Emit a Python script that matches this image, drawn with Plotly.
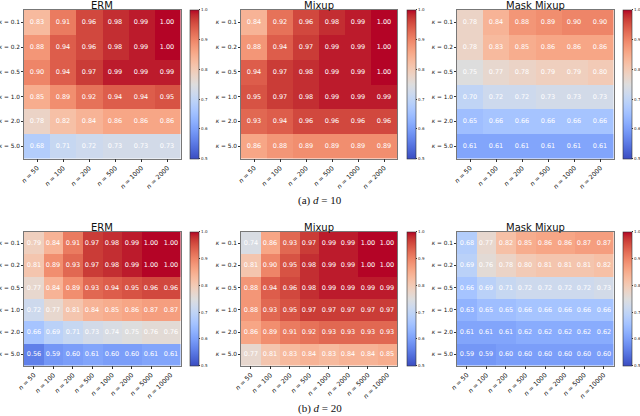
import plotly.graph_objects as go

# ---------------- data ----------------
kappas = ["0.1", "0.2", "0.5", "1.0", "2.0", "5.0"]
n_top = ["50", "100", "200", "500", "1000", "2000"]
n_bot = ["50", "100", "200", "500", "1000", "2000", "5000", "10000"]
methods = ["ERM", "Mixup", "Mask Mixup"]

erm_d10 = [
    [0.83, 0.91, 0.96, 0.98, 0.99, 1.00],
    [0.88, 0.94, 0.96, 0.98, 0.99, 1.00],
    [0.90, 0.94, 0.97, 0.99, 0.99, 0.99],
    [0.85, 0.89, 0.92, 0.94, 0.94, 0.95],
    [0.78, 0.82, 0.84, 0.86, 0.86, 0.86],
    [0.68, 0.71, 0.72, 0.73, 0.73, 0.73],
]
mixup_d10 = [
    [0.84, 0.92, 0.96, 0.98, 0.99, 1.00],
    [0.88, 0.94, 0.97, 0.99, 0.99, 1.00],
    [0.94, 0.97, 0.98, 0.99, 0.99, 1.00],
    [0.95, 0.97, 0.98, 0.99, 0.99, 0.99],
    [0.93, 0.94, 0.96, 0.96, 0.96, 0.96],
    [0.86, 0.88, 0.89, 0.89, 0.89, 0.89],
]
mask_d10 = [
    [0.78, 0.84, 0.88, 0.89, 0.90, 0.90],
    [0.78, 0.83, 0.85, 0.86, 0.86, 0.86],
    [0.75, 0.77, 0.78, 0.79, 0.79, 0.80],
    [0.70, 0.72, 0.72, 0.73, 0.73, 0.73],
    [0.65, 0.66, 0.66, 0.66, 0.66, 0.66],
    [0.61, 0.61, 0.61, 0.61, 0.61, 0.61],
]
erm_d20 = [
    [0.79, 0.84, 0.91, 0.97, 0.98, 0.99, 1.00, 1.00],
    [0.81, 0.89, 0.93, 0.97, 0.98, 0.99, 1.00, 1.00],
    [0.77, 0.84, 0.89, 0.93, 0.94, 0.95, 0.96, 0.96],
    [0.72, 0.77, 0.81, 0.84, 0.85, 0.86, 0.87, 0.87],
    [0.66, 0.69, 0.71, 0.73, 0.74, 0.75, 0.76, 0.76],
    [0.56, 0.59, 0.60, 0.61, 0.60, 0.60, 0.61, 0.61],
]
mixup_d20 = [
    [0.74, 0.86, 0.93, 0.97, 0.99, 0.99, 1.00, 1.00],
    [0.81, 0.90, 0.95, 0.98, 0.99, 0.99, 1.00, 1.00],
    [0.88, 0.94, 0.96, 0.98, 0.99, 0.99, 0.99, 0.99],
    [0.88, 0.93, 0.95, 0.97, 0.97, 0.97, 0.97, 0.97],
    [0.86, 0.89, 0.91, 0.92, 0.93, 0.93, 0.93, 0.93],
    [0.77, 0.81, 0.83, 0.84, 0.83, 0.84, 0.84, 0.85],
]
mask_d20 = [
    [0.68, 0.77, 0.82, 0.85, 0.86, 0.86, 0.87, 0.87],
    [0.69, 0.76, 0.78, 0.80, 0.81, 0.81, 0.81, 0.82],
    [0.66, 0.69, 0.71, 0.72, 0.72, 0.72, 0.72, 0.73],
    [0.63, 0.65, 0.65, 0.66, 0.66, 0.66, 0.66, 0.66],
    [0.61, 0.61, 0.61, 0.62, 0.62, 0.62, 0.62, 0.62],
    [0.59, 0.59, 0.60, 0.60, 0.60, 0.60, 0.60, 0.60],
]
captions = ["(a) <i>d</i> = 10", "(b) <i>d</i> = 20"]
cbar_ticks = [0.5, 0.6, 0.7, 0.8, 0.9, 1.0]

# matplotlib "coolwarm"
cw = [
    (59, 76, 192), (68, 90, 204), (77, 104, 215), (87, 117, 225), (98, 130, 234),
    (108, 142, 241), (119, 154, 247), (130, 165, 251), (141, 176, 254), (152, 185, 255),
    (163, 194, 255), (174, 201, 253), (184, 208, 249), (194, 213, 244), (204, 217, 238),
    (213, 219, 230), (221, 221, 221), (229, 216, 209), (236, 211, 197), (241, 204, 184),
    (245, 196, 172), (247, 187, 159), (247, 177, 147), (247, 166, 134), (244, 154, 123),
    (241, 141, 111), (236, 127, 99), (229, 112, 88), (222, 96, 77), (213, 80, 66),
    (203, 62, 56), (192, 40, 47), (180, 4, 38),
]
colorscale = [[i / (len(cw) - 1), "rgb(%d,%d,%d)" % c] for i, c in enumerate(cw)]

W, H = 640, 416
# panel pixel boxes: (x0, x1) per column, (y0, y1) per row
col_px = [(24, 180.5), (241, 397), (457, 613.5)]
row_px = [(10, 158.5), (232, 365.5)]
cbar_x = [189.5, 406.5, 623]

rows = [
    (n_top, [erm_d10, mixup_d10, mask_d10]),
    (n_bot, [erm_d20, mixup_d20, mask_d20]),
]

fig = go.Figure()
layout = {}
annotations = []
idx = 0
for r, (ns, mats) in enumerate(rows):
    y0, y1 = row_px[r]
    for c, z in enumerate(mats):
        idx += 1
        x0, x1 = col_px[c]
        xa = "xaxis" if idx == 1 else "xaxis%d" % idx
        ya = "yaxis" if idx == 1 else "yaxis%d" % idx
        xref = "x" if idx == 1 else "x%d" % idx
        yref = "y" if idx == 1 else "y%d" % idx
        fig.add_trace(go.Heatmap(
            z=z, x=ns, y=kappas, xaxis=xref, yaxis=yref,
            zmin=0.5, zmax=1.0, colorscale=colorscale,
            texttemplate="%{z:.2f}",
            textfont=dict(color="white", size=6.5, family="DejaVu Sans"),
            xgap=0, ygap=0, hoverinfo="skip",
            colorbar=dict(
                x=cbar_x[c] / W, xanchor="left", xpad=0, ypad=0,
                y=1 - (y0 + y1) / 2 / H, yanchor="middle",
                len=(y1 - y0) / H, lenmode="fraction",
                thickness=9, thicknessmode="pixels",
                outlinewidth=0.6, outlinecolor="#333",
                tickvals=cbar_ticks, ticktext=["%.1f" % t for t in cbar_ticks],
                tickfont=dict(size=4, family="DejaVu Sans", color="#222"),
                ticks="outside", ticklen=1.5, tickwidth=0.5, tickcolor="#333",
            ),
        ))
        layout[xa] = dict(
            domain=[x0 / W, x1 / W], anchor=yref, type="category",
            tickvals=ns, ticktext=["<i>n</i> = %s" % n for n in ns],
            tickangle=-45, tickfont=dict(size=6.3, family="DejaVu Sans", color="#111"),
            ticks="outside", ticklen=2.5, tickwidth=0.6, tickcolor="#333",
            showline=True, mirror=True, linecolor="#777", linewidth=0.8,
            showgrid=False, zeroline=False, fixedrange=True, automargin=False,
        )
        layout[ya] = dict(
            domain=[1 - y1 / H, 1 - y0 / H], anchor=xref, type="category",
            autorange="reversed",
            tickvals=kappas, ticktext=["<i>κ</i> = %s" % k for k in kappas],
            tickfont=dict(size=5.8, family="DejaVu Sans", color="#111"),
            ticks="outside", ticklen=2, tickwidth=0.6, tickcolor="#333",
            showline=True, mirror=True, linecolor="#777", linewidth=0.8,
            showgrid=False, zeroline=False, fixedrange=True, automargin=False,
        )
        annotations.append(dict(
            text=methods[c], xref="paper", yref="paper",
            x=(x0 + x1) / 2 / W, y=1 - y0 / H, xanchor="center", yanchor="bottom",
            yshift=-3, showarrow=False,
            font=dict(size=10, family="DejaVu Sans", color="#111"),
        ))

cap_y = [200, 408]
for r, cap in enumerate(captions):
    annotations.append(dict(
        text=cap, xref="paper", yref="paper", x=0.5, y=1 - cap_y[r] / H,
        xanchor="center", yanchor="middle", showarrow=False,
        font=dict(size=11, family="Liberation Serif", color="#111"),
    ))

fig.update_layout(
    width=W, height=H, margin=dict(l=0, r=0, t=0, b=0, autoexpand=False),
    paper_bgcolor="white", plot_bgcolor="white",
    annotations=annotations, **layout,
)
fig.write_html(
    "out.html",
    config={"displayModeBar": False},
    post_script="document.body.style.margin='0';document.body.style.overflow='hidden';",
)
